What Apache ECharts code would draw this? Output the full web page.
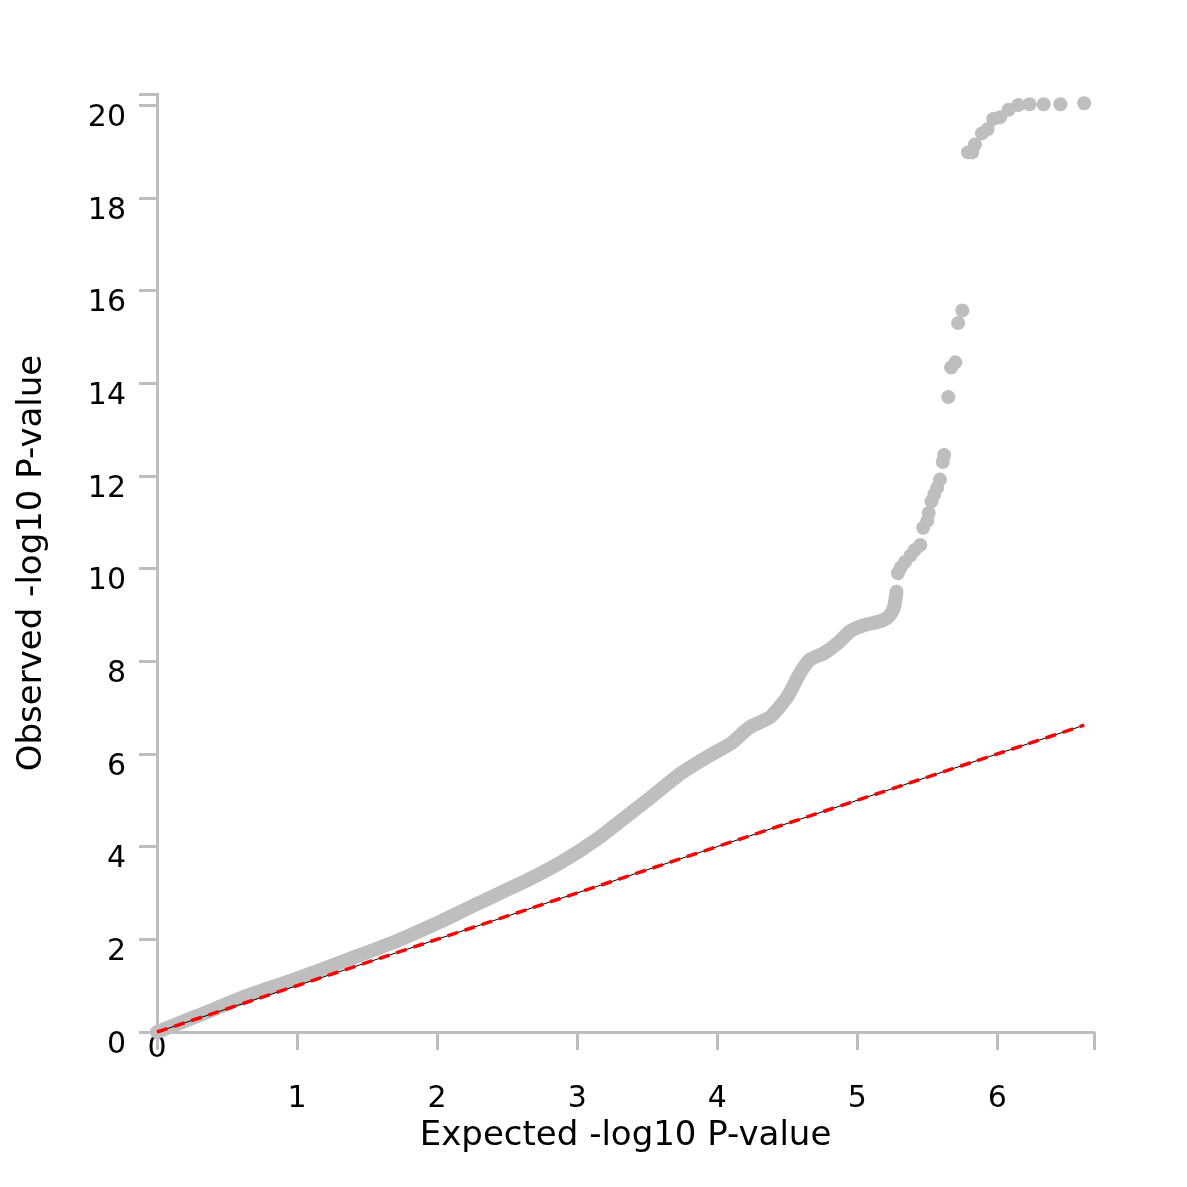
<!DOCTYPE html>
<html>
<head>
<meta charset="utf-8">
<script src="https://cdn.jsdelivr.net/npm/echarts@6/dist/echarts.min.js"></script>
<style>html,body{margin:0;padding:0;background:#fff}#c{width:1187px;height:1187px}</style>
</head>
<body>
<div id="c"></div>
<script>
// Dense part of the QQ curve (expected, observed)
var bandX = [0, 0.3, 0.66, 1.0, 1.38, 1.7, 2.0, 2.31, 2.66, 2.9, 3.14, 3.33, 3.5, 3.74, 3.93, 4.1, 4.2, 4.24, 4.38, 4.5, 4.59, 4.66, 4.76, 4.86, 4.95, 5.05, 5.16, 5.22, 5.26, 5.28];
var bandY = [0, 0.36, 0.80, 1.15, 1.58, 1.95, 2.35, 2.80, 3.30, 3.69, 4.16, 4.60, 5.00, 5.58, 5.94, 6.23, 6.50, 6.59, 6.80, 7.23, 7.74, 8.03, 8.17, 8.39, 8.65, 8.78, 8.86, 8.95, 9.14, 9.50];
// Sparse upper tail points
var tailX = [5.29, 5.31, 5.34, 5.38, 5.41, 5.45, 5.47, 5.50, 5.51, 5.53, 5.55, 5.57, 5.59, 5.61, 5.62, 5.65, 5.67, 5.70, 5.72, 5.75, 5.79, 5.82, 5.84, 5.89, 5.93, 5.97, 6.02, 6.08, 6.15, 6.23, 6.33, 6.45, 6.62];
var tailY = [9.90, 10.02, 10.14, 10.28, 10.40, 10.51, 10.88, 11.03, 11.20, 11.45, 11.60, 11.74, 11.92, 12.30, 12.45, 13.70, 14.34, 14.45, 15.30, 15.57, 18.98, 18.98, 19.15, 19.39, 19.48, 19.70, 19.74, 19.90, 20.00, 20.02, 20.02, 20.02, 20.04];
// Reference diagonal y = x
var refX = [0, 6.62];
var refY = [0, 6.62];
var xTicks = [0, 1, 2, 3, 4, 5, 6];
var yTicks = [0, 2, 4, 6, 8, 10, 12, 14, 16, 18, 20];

function zip(a, b) { return a.map(function (v, i) { return [v, b[i]]; }); }
function isTick(list, v) { return list.some(function (t) { return Math.abs(t - v) < 1e-6; }); }

var FONT = 'DejaVu Sans';
var GRAY = '#BEBEBE';
var chart = echarts.init(document.getElementById('c'), null, { renderer: 'canvas' });
chart.setOption({
  backgroundColor: '#ffffff',
  animation: false,
  grid: { left: 157, right: 93, top: 94, bottom: 155, containLabel: false },
  xAxis: [{
    type: 'value', min: 0, max: 6.69, interval: 1,
    name: 'Expected -log10 P-value', nameLocation: 'middle', nameGap: 80,
    nameTextStyle: { fontFamily: FONT, fontSize: 34, color: '#000' },
    axisLine: { show: true, onZero: false, lineStyle: { color: GRAY, width: 3 } },
    axisTick: { show: true, length: 18, lineStyle: { color: GRAY, width: 3 } },
    splitLine: { show: false },
    axisLabel: {
      interval: 0, margin: 52, fontFamily: FONT, fontSize: 30, color: '#000',
      formatter: function (v) { return (v > 0 && isTick(xTicks, v)) ? String(Math.round(v)) : ''; }
    }
  }, {
    type: 'value', min: 0, max: 6.69, interval: 1, position: 'bottom',
    axisLine: { show: false }, axisTick: { show: false }, splitLine: { show: false },
    axisLabel: {
      interval: 0, margin: 2, fontFamily: FONT, fontSize: 30, color: '#000',
      formatter: function (v) { return v === 0 ? '0' : ''; }
    }
  }],
  yAxis: {
    type: 'value', min: 0, max: 20.24, interval: 2,
    name: 'Observed -log10 P-value', nameLocation: 'middle', nameGap: 108, nameRotate: 90,
    nameTextStyle: { fontFamily: FONT, fontSize: 34, color: '#000' },
    axisLine: { show: true, onZero: false, lineStyle: { color: GRAY, width: 3 } },
    axisTick: { show: true, length: 18, lineStyle: { color: GRAY, width: 3 } },
    splitLine: { show: false },
    axisLabel: {
      interval: 0, margin: 31, fontFamily: FONT, fontSize: 30, color: '#000',
      verticalAlign: 'top', lineHeight: 26,
      formatter: function (v) { return isTick(yTicks, v) ? String(Math.round(v)) : ''; }
    }
  },
  series: [{
    type: 'line', data: zip(bandX, bandY), showSymbol: false, smooth: 0.2,
    lineStyle: { color: GRAY, width: 14, cap: 'round', join: 'round' },
    silent: true, z: 2
  }, {
    type: 'scatter', data: zip(tailX, tailY), symbol: 'circle', symbolSize: 14,
    itemStyle: { color: GRAY, opacity: 1 }, silent: true, z: 2
  }, {
    type: 'line', data: zip(refX, refY), showSymbol: false,
    lineStyle: { color: '#000', width: 1 }, silent: true, z: 3
  }, {
    type: 'line', data: zip(refX, refY), showSymbol: false,
    lineStyle: { color: '#FF0000', width: 3.5, type: [11, 7] }, silent: true, z: 4
  }]
});
</script>
</body>
</html>
